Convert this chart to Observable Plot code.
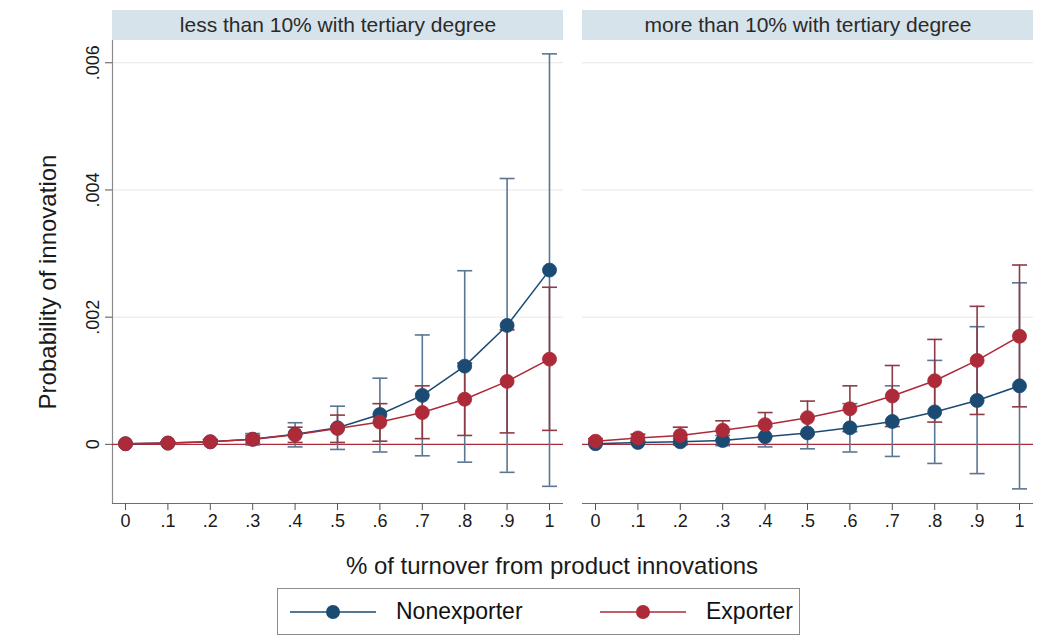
<!DOCTYPE html>
<html>
<head>
<meta charset="utf-8">
<script src="https://cdn.jsdelivr.net/npm/d3@7"></script>
<script src="https://cdn.jsdelivr.net/npm/@observablehq/plot@0.6"></script>
<style>
  html, body { margin: 0; padding: 0; background: #fff; }
  body { font-family: "Liberation Sans", Arial, Helvetica, sans-serif; position: relative; width: 1054px; height: 641px; overflow: hidden; }
  #chart { position: absolute; left: 0; top: 0; }
  .legend { position: absolute; left: 277px; top: 588px; width: 523px; height: 47px; border: 1px solid #8c8c8c; box-sizing: border-box; background: #fff; }
  .legend .item { position: absolute; top: 0; height: 45px; display: flex; align-items: center; }
  .legend .lab { font-size: 23px; color: #111; margin-left: 20px; }
</style>
</head>
<body>
<div id="chart"></div>
<div class="legend" id="legend"></div>
<script>
// ---------- data ----------
const xs = [0, 0.1, 0.2, 0.3, 0.4, 0.5, 0.6, 0.7, 0.8, 0.9, 1];
const xTickLabels = ["0", ".1", ".2", ".3", ".4", ".5", ".6", ".7", ".8", ".9", "1"];
const yTicks = [0, 0.002, 0.004, 0.006];
const yTickLabels = ["0", ".002", ".004", ".006"];
const panels = ["less than 10% with tertiary degree", "more than 10% with tertiary degree"];
const groups = ["Nonexporter", "Exporter"];
const xTitle = "% of turnover from product innovations";
const yTitle = "Probability of innovation";

// less than 10% with tertiary degree
const lowNonexpEst = [0.00001, 0.00002, 0.00004, 0.00008, 0.00016, 0.00026, 0.00047, 0.00077, 0.00123, 0.00187, 0.00274];
const lowNonexpLo  = [0.00000, 0.00000, 0.00001, -0.00001, -0.00004, -0.00008, -0.00012, -0.00018, -0.00028, -0.00044, -0.00066];
const lowNonexpHi  = [0.00002, 0.00004, 0.00008, 0.00017, 0.00034, 0.00060, 0.00104, 0.00172, 0.00273, 0.00418, 0.00614];
const lowExpEst = [0.00001, 0.00002, 0.00004, 0.00008, 0.00015, 0.00025, 0.00035, 0.00050, 0.00071, 0.00099, 0.00134];
const lowExpLo  = [0.00000, 0.00001, 0.00001, 0.00002, 0.00003, 0.00003, 0.00005, 0.00009, 0.00014, 0.00018, 0.00022];
const lowExpHi  = [0.00002, 0.00004, 0.00007, 0.00014, 0.00027, 0.00046, 0.00064, 0.00092, 0.00128, 0.00180, 0.00247];

// more than 10% with tertiary degree
const highNonexpEst = [0.00001, 0.00003, 0.00004, 0.00006, 0.00012, 0.00018, 0.00026, 0.00036, 0.00051, 0.00069, 0.00092];
const highNonexpLo  = [0.00000, 0.00000, -0.00001, -0.00002, -0.00004, -0.00007, -0.00012, -0.00019, -0.00030, -0.00046, -0.00070];
const highNonexpHi  = [0.00002, 0.00006, 0.00009, 0.00014, 0.00028, 0.00043, 0.00064, 0.00092, 0.00132, 0.00185, 0.00254];
const highExpEst = [0.00005, 0.00010, 0.00014, 0.00022, 0.00031, 0.00042, 0.00056, 0.00076, 0.00100, 0.00132, 0.00170];
const highExpLo  = [0.00001, 0.00004, 0.00001, 0.00007, 0.00012, 0.00016, 0.00020, 0.00028, 0.00035, 0.00047, 0.00059];
const highExpHi  = [0.00009, 0.00016, 0.00027, 0.00037, 0.00050, 0.00068, 0.00092, 0.00124, 0.00165, 0.00217, 0.00282];

// ---------- build table ----------
const series = [
  [panels[0], groups[0], lowNonexpEst, lowNonexpLo, lowNonexpHi],
  [panels[0], groups[1], lowExpEst, lowExpLo, lowExpHi],
  [panels[1], groups[0], highNonexpEst, highNonexpLo, highNonexpHi],
  [panels[1], groups[1], highExpEst, highExpLo, highExpHi]
];
const rows = [];
for (const [panel, group, est, lo, hi] of series) {
  xs.forEach((x, i) => rows.push({panel, group, x, est: est[i], lo: lo[i], hi: hi[i]}));
}
const nonexp = rows.filter(d => d.group === groups[0]);
const exp = rows.filter(d => d.group === groups[1]);

// ---------- styles ----------
const navy = "#1b4a73";
const navyBar = "#5b7690";
const red = "#ad2a39";
const redBar = "#8e3a45";
const stripFill = "#d7e3ea";
const font = "\"Liberation Sans\", Arial, Helvetica, sans-serif";
const yDomain = [-0.00093, 0.00635];
const xDomain = [0, 1];

const cap = {
  draw(context, size) {
    const w = Math.sqrt(size / Math.PI);
    context.moveTo(-w, 0);
    context.lineTo(w, 0);
  }
};

const fmtX = d => xTickLabels[Math.round(d * 10)];
const fmtY = d => yTickLabels[Math.round(d / 0.002)];

const plot = Plot.plot({
  width: 1054,
  height: 582,
  marginTop: 40,
  marginBottom: 79,
  marginLeft: 112,
  marginRight: 21,
  style: {fontFamily: font, fontSize: "18px", color: "#1a1a1a", background: "#fff", overflow: "visible"},
  fx: {domain: panels, paddingInner: 19 / 470, paddingOuter: 0, axis: null, label: null},
  x: {domain: xDomain, insetLeft: 13, insetRight: 14, axis: null},
  y: {domain: yDomain, axis: null},
  marks: [
    // strip headers
    Plot.rect(panels, {fx: d => d, y1: () => yDomain[1], y2: () => yDomain[1], insetTop: -30, fill: stripFill}),
    Plot.text(panels, {fx: d => d, text: d => d, frameAnchor: "top", lineAnchor: "middle", dy: -15, fontSize: 21, fill: "#2a2a2a"}),
    // grid
    Plot.gridY(yTicks.filter(d => d !== 0), {stroke: "#e6e6e6", strokeOpacity: 1, strokeWidth: 1}),
    // axis lines
    Plot.ruleY([yDomain[0]], {stroke: "#6e6e6e", strokeWidth: 1.2}),
    Plot.ruleX([xDomain[0]], {y1: () => yDomain[0], y2: () => yDomain[1], dx: -13, stroke: "#8a8a8a", strokeWidth: 1.2, facetAnchor: "left"}),
    // x axis
    Plot.axisX({ticks: xs, tickFormat: fmtX, tickSize: 7, tickPadding: 4, fontSize: 18, label: null, stroke: "#555"}),
    // y axis
    Plot.axisY({ticks: yTicks, tickFormat: fmtY, tickSize: 7, tickPadding: 7, tickRotate: -90, fontSize: 18, label: null, stroke: "#555"}),
    Plot.text([yTitle], {frameAnchor: "left", rotate: -90, textAnchor: "middle", lineAnchor: "middle", dx: -64, dy: 10, fontSize: 24, fill: "#1a1a1a", facetAnchor: "left"}),
    Plot.text([xTitle], {facet: "super", frameAnchor: "bottom", lineAnchor: "middle", dy: 63, dx: -21, fontSize: 24, fill: "#1a1a1a"}),
    // zero reference line
    Plot.ruleY([0], {stroke: red, strokeWidth: 1.3}),
    // confidence intervals
    Plot.ruleX(nonexp, {fx: "panel", x: "x", y1: "lo", y2: "hi", stroke: navyBar, strokeWidth: 1.6}),
    Plot.dot(nonexp, {fx: "panel", x: "x", y: "lo", symbol: cap, r: 7.5, fill: "none", stroke: navyBar, strokeWidth: 1.6}),
    Plot.dot(nonexp, {fx: "panel", x: "x", y: "hi", symbol: cap, r: 7.5, fill: "none", stroke: navyBar, strokeWidth: 1.6}),
    Plot.ruleX(exp, {fx: "panel", x: "x", y1: "lo", y2: "hi", stroke: redBar, strokeWidth: 1.6}),
    Plot.dot(exp, {fx: "panel", x: "x", y: "lo", symbol: cap, r: 7.5, fill: "none", stroke: redBar, strokeWidth: 1.6}),
    Plot.dot(exp, {fx: "panel", x: "x", y: "hi", symbol: cap, r: 7.5, fill: "none", stroke: redBar, strokeWidth: 1.6}),
    // lines + markers
    Plot.line(nonexp, {fx: "panel", x: "x", y: "est", stroke: navy, strokeWidth: 1.5}),
    Plot.dot(nonexp, {fx: "panel", x: "x", y: "est", r: 7, fill: navy, stroke: navy, strokeWidth: 0.8}),
    Plot.line(exp, {fx: "panel", x: "x", y: "est", stroke: red, strokeWidth: 1.5}),
    Plot.dot(exp, {fx: "panel", x: "x", y: "est", r: 7, fill: red, stroke: red, strokeWidth: 0.8})
  ]
});
document.getElementById("chart").appendChild(plot);

// ---------- legend ----------
const legend = d3.select("#legend");
const items = [
  {label: groups[0], color: navy, left: 12},
  {label: groups[1], color: red, left: 322}
];
for (const it of items) {
  const div = legend.append("div").attr("class", "item").style("left", it.left + "px");
  const s = div.append("svg").attr("width", 86).attr("height", 20);
  s.append("line").attr("x1", 0).attr("x2", 86).attr("y1", 10).attr("y2", 10).attr("stroke", it.color).attr("stroke-width", 1.5);
  s.append("circle").attr("cx", 43).attr("cy", 10).attr("r", 7).attr("fill", it.color);
  div.append("span").attr("class", "lab").text(it.label);
}
</script>
</body>
</html>
